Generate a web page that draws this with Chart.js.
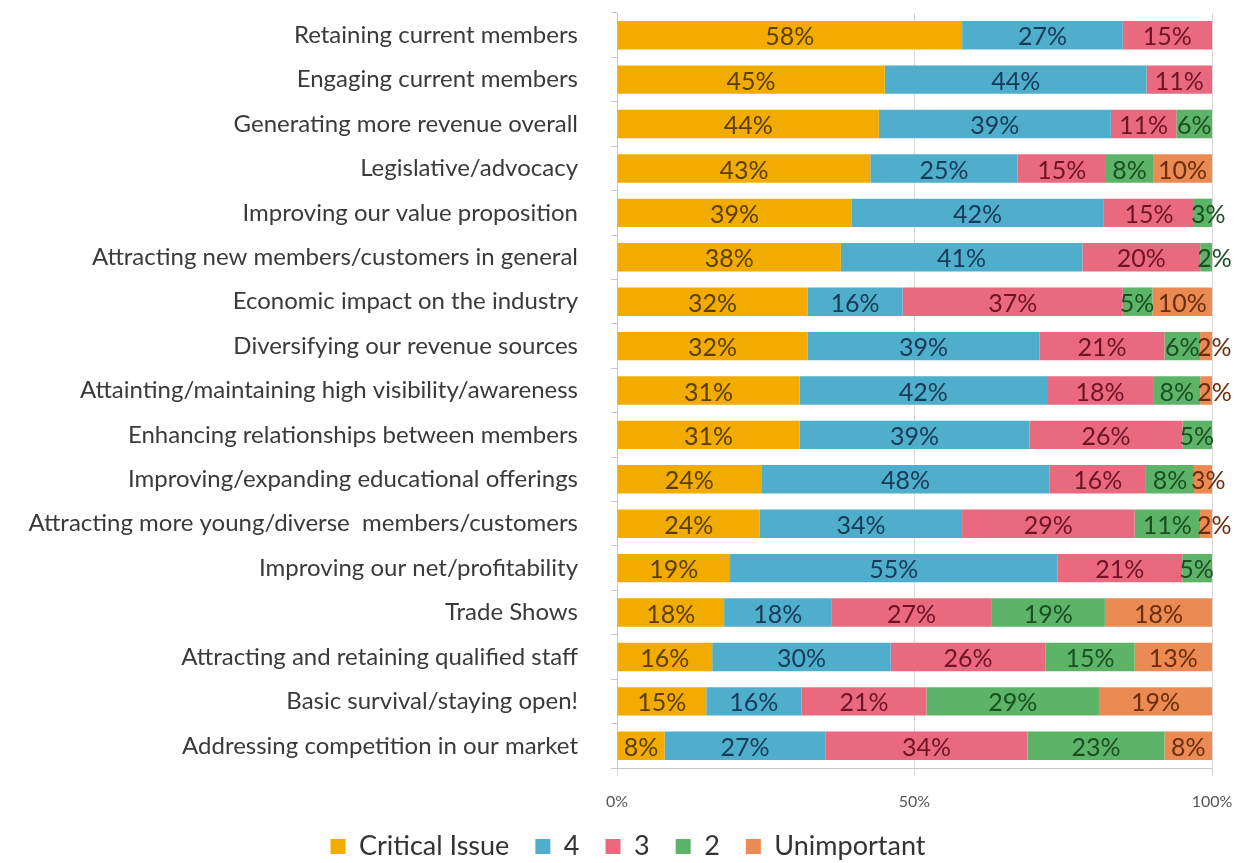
<!DOCTYPE html>
<html lang="en">
<head>
  <meta charset="UTF-8">
  <title>Issue importance</title>
  <script src="https://cdn.jsdelivr.net/npm/chart.js"></script>
  <style>
    html, body { margin: 0; padding: 0; background: #fff; }
    #wrap { width: 1256px; height: 863px; }
  </style>
</head>
<body>
  <div id="wrap"><canvas id="issueChart" width="1256" height="863"></canvas></div>

  <script>
    const issues = [
      'Retaining current members',
      'Engaging current members',
      'Generating more revenue overall',
      'Legislative/advocacy',
      'Improving our value proposition',
      'Attracting new members/customers in general',
      'Economic impact on the industry',
      'Diversifying our revenue sources',
      'Attainting/maintaining high visibility/awareness',
      'Enhancing relationships between members',
      'Improving/expanding educational offerings',
      'Attracting more young/diverse  members/customers',
      'Improving our net/profitability',
      'Trade Shows',
      'Attracting and retaining qualified staff',
      'Basic survival/staying open!',
      'Addressing competition in our market'
    ];

    const seriesNames = ['Critical Issue', '4', '3', '2', 'Unimportant'];

    const critical    = [58, 45, 44, 43, 39, 38, 32, 32, 31, 31, 24, 24, 19, 18, 16, 15, 8];
    const four        = [27, 44, 39, 25, 42, 41, 16, 39, 42, 39, 48, 34, 55, 18, 30, 16, 27];
    const three       = [15, 11, 11, 15, 15, 20, 37, 21, 18, 26, 16, 29, 21, 27, 26, 21, 34];
    const two         = [0, 0, 6, 8, 3, 2, 5, 6, 8, 5, 8, 11, 5, 19, 15, 29, 23];
    const unimportant = [0, 0, 0, 10, 0, 0, 10, 2, 2, 0, 3, 2, 0, 18, 13, 19, 8];

    const xTicks = [0, 50, 100];

    const fills  = ['#F2AC00', '#4EAECB', '#E96A7E', '#5DB468', '#EB8A52'];
    const inks   = ['#5b3f00', '#173a58', '#6e1426', '#1b4f22', '#6a2e0c'];

    const raw = [critical, four, three, two, unimportant];

    // each row is shown as a 100% stack, so scale by the row total
    const totals = issues.map((_, i) => raw.reduce((s, arr) => s + arr[i], 0));

    const datasets = raw.map((arr, k) => ({
      label: seriesNames[k],
      data: arr.map((v, i) => v / totals[i] * 100),
      rawValues: arr,
      backgroundColor: fills[k],
      borderWidth: 0,
      barPercentage: 0.64,
      categoryPercentage: 1
    }));

    // percent labels on each segment; narrow ones start at the segment edge
    const segmentLabels = {
      id: 'segmentLabels',
      afterDatasetsDraw(chart) {
        const ctx = chart.ctx;
        ctx.save();
        ctx.font = '25px Lato';
        ctx.textBaseline = 'middle';
        chart.data.datasets.forEach((ds, k) => {
          const meta = chart.getDatasetMeta(k);
          meta.data.forEach((bar, i) => {
            const v = ds.rawValues[i];
            if (!v) return;
            const txt = v + '%';
            const left = Math.min(bar.base, bar.x);
            const w = Math.abs(bar.x - bar.base);
            const tw = ctx.measureText(txt).width;
            ctx.fillStyle = inks[k];
            if (tw > w + 2) {
              ctx.textAlign = 'left';
              ctx.fillText(txt, left - 3, bar.y + 2);
            } else {
              ctx.textAlign = 'center';
              ctx.fillText(txt, left + w / 2, bar.y + 2);
            }
          });
        });
        ctx.restore();
      }
    };

    // centre the legend on the whole canvas, not the padded area
    const centreLegend = {
      id: 'centreLegend',
      afterLayout(chart) {
        const lg = chart.legend;
        if (!lg) return;
        const shift = (chart.width - lg.right - lg.left) / 2;
        lg.left += shift;
        lg.right += shift;
      }
    };

    new Chart(document.getElementById('issueChart').getContext('2d'), {
      type: 'bar',
      data: { labels: issues, datasets: datasets },
      options: {
        indexAxis: 'y',
        responsive: false,
        animation: false,
        layout: { padding: { top: 13, right: 44, left: 0, bottom: -7 } },
        plugins: {
          legend: {
            position: 'bottom',
            labels: {
              font: { family: 'Lato', size: 27 },
              color: '#333',
              boxWidth: 15,
              boxHeight: 15,
              padding: 26
            }
          },
          tooltip: { enabled: false }
        },
        scales: {
          x: {
            stacked: true,
            min: 0,
            max: 100,
            afterBuildTicks(scale) {
              scale.ticks = xTicks.map(v => ({ value: v }));
            },
            afterFit(scale) { scale.height = 39; },
            ticks: {
              callback: v => v + '%',
              font: { family: 'Lato', size: 16 },
              color: '#555',
              padding: 16
            },
            grid: {
              color: '#d9d9d9',
              tickLength: 8,
              drawTicks: true
            },
            border: { color: '#c8c8c8' }
          },
          y: {
            stacked: true,
            afterFit(scale) {
              scale.width = 617;
              // keep the plot tight to the top and bottom
              scale.paddingTop = 0;
              scale.paddingBottom = 0;
            },
            ticks: {
              font: { family: 'Lato', size: 24 },
              color: '#3a3a3a',
              padding: 33
            },
            grid: {
              drawOnChartArea: false,
              offset: true,
              tickLength: 6,
              color: '#c8c8c8'
            },
            border: { color: '#c8c8c8' }
          }
        }
      },
      plugins: [segmentLabels, centreLegend]
    });
  </script>
</body>
</html>
